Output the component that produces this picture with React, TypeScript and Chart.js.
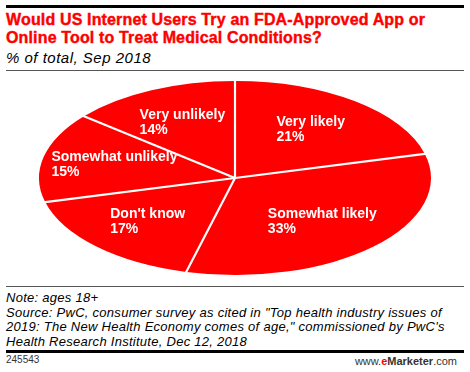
import React, { useEffect, useRef } from 'react';
import { Chart, registerables } from 'chart.js';
Chart.register(...registerables);

const categories = ['Very likely', 'Somewhat likely', "Don't know", 'Somewhat unlikely', 'Very unlikely'];
const values = [21, 33, 17, 15, 14];

const RED = '#fe0000';
const RX = 196;
const LABEL_F = 0.63;
const LABEL_LH = 15;

const ellipsePlugin = {
  id: 'ellipse',
  beforeDatasetsDraw(chart: any) {
    const a = chart.getDatasetMeta(0).data[0] as any;
    const ctx = chart.ctx;
    const sx = RX / a.outerRadius;
    ctx.save();
    ctx.translate(a.x, a.y);
    ctx.scale(sx, 1);
    ctx.translate(-a.x, -a.y);
  },
  afterDatasetsDraw(chart: any) {
    const ctx = chart.ctx;
    ctx.restore();
    const arcs = chart.getDatasetMeta(0).data as any[];
    const sx = RX / arcs[0].outerRadius;
    ctx.save();
    ctx.strokeStyle = '#ffffff';
    ctx.lineWidth = 2.2;
    arcs.forEach((a) => {
      const ang = a.startAngle;
      ctx.beginPath();
      ctx.moveTo(a.x, a.y);
      ctx.lineTo(a.x + Math.cos(ang) * a.outerRadius * sx * 1.02, a.y + Math.sin(ang) * a.outerRadius * 1.02);
      ctx.stroke();
    });
    ctx.fillStyle = '#ffffff';
    ctx.font = 'bold 14px "Liberation Sans", Arial, sans-serif';
    ctx.textBaseline = 'middle';
    ctx.textAlign = 'left';
    arcs.forEach((a, i) => {
      const mid = (a.startAngle + a.endAngle) / 2;
      const cx = a.x + Math.cos(mid) * a.outerRadius * sx * LABEL_F;
      const cy = a.y + Math.sin(mid) * a.outerRadius * LABEL_F;
      const l1 = categories[i];
      const l2 = values[i] + '%';
      const w = Math.max(ctx.measureText(l1).width, ctx.measureText(l2).width);
      const left = cx - w / 2;
      ctx.fillText(l1, left, cy - LABEL_LH / 2);
      ctx.fillText(l2, left, cy + LABEL_LH / 2);
    });
    ctx.restore();
  },
};

export default function App() {
  const ref = useRef<HTMLCanvasElement>(null);
  useEffect(() => {
    const chart = new Chart(ref.current!, {
      type: 'pie',
      data: {
        labels: categories,
        datasets: [
          {
            data: values,
            backgroundColor: RED,
            borderWidth: 0,
            clip: false as any,
          },
        ],
      },
      options: {
        responsive: false,
        animation: false,
        events: [],
        layout: { padding: 0 },
        plugins: { legend: { display: false }, tooltip: { enabled: false } },
      },
      plugins: [ellipsePlugin],
    });
    return () => chart.destroy();
  }, []);

  const font = '"Liberation Sans", Arial, sans-serif';
  return (
    <div style={{ position: 'absolute', left: 0, top: 0, width: 470, height: 372, background: '#fff', fontFamily: font, overflow: 'hidden' }}>
      <div style={{ position: 'absolute', left: 6, top: 5, width: 458, height: 3, background: '#000' }} />
      <div style={{ position: 'absolute', left: 6, top: 10.5, width: 464, fontSize: 16, lineHeight: '18px', fontWeight: 'bold', letterSpacing: '0.15px', WebkitTextStroke: '0.4px ' + RED, color: RED, whiteSpace: 'nowrap' }}>
        Would US Internet Users Try an FDA-Approved App or<br />Online Tool to Treat Medical Conditions?
      </div>
      <div style={{ position: 'absolute', left: 6, top: 49, fontSize: 15, lineHeight: '18px', fontStyle: 'italic', letterSpacing: '0.5px', color: '#000', whiteSpace: 'nowrap' }}>
        % of total, Sep 2018
      </div>
      <div style={{ position: 'absolute', left: 6, top: 70, width: 458, height: 1, background: '#555' }} />
      <canvas ref={ref} width={470} height={194} style={{ position: 'absolute', left: 0, top: 81, width: 470, height: 194 }} />
      <div style={{ position: 'absolute', left: 6, top: 286, width: 458, height: 1, background: '#555' }} />
      <div style={{ position: 'absolute', left: 6, top: 291, fontSize: 13, lineHeight: '14.7px', fontStyle: 'italic', letterSpacing: '0.27px', color: '#000', whiteSpace: 'nowrap' }}>
        Note: ages 18+<br />
        Source: PwC, consumer survey as cited in "Top health industry issues of<br />
        2019: The New Health Economy comes of age," commissioned by PwC's<br />
        Health Research Institute, Dec 12, 2018
      </div>
      <div style={{ position: 'absolute', left: 6, top: 350, width: 458, height: 3, background: '#000' }} />
      <div style={{ position: 'absolute', left: 6, top: 354, fontSize: 10, lineHeight: '12px', color: '#333' }}>245543</div>
      <div style={{ position: 'absolute', right: 13, top: 354.6, fontSize: 11, lineHeight: '12px', color: '#333', whiteSpace: 'nowrap' }}>
        www.<span style={{ color: RED, fontWeight: 'bold' }}>e</span><span style={{ fontWeight: 'bold' }}>Marketer</span>.com
      </div>
    </div>
  );
}
